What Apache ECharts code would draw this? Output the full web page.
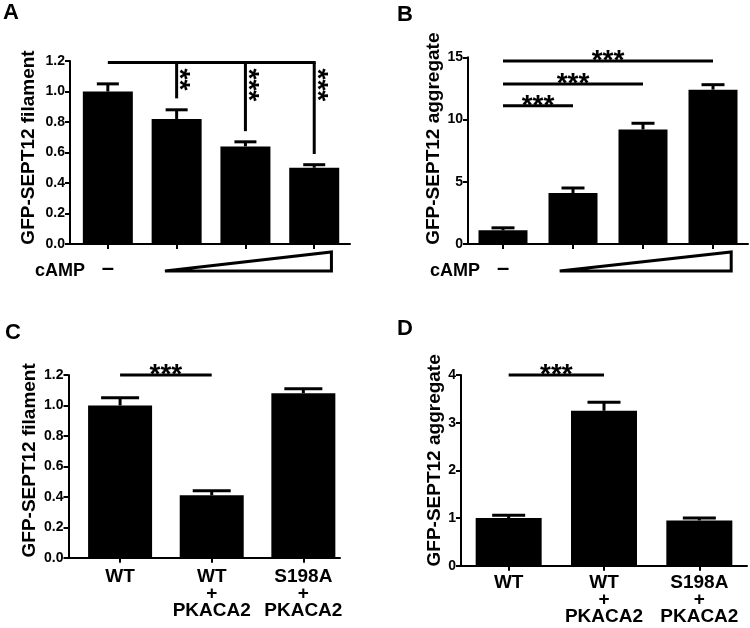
<!DOCTYPE html>
<html><head><meta charset="utf-8">
<script src="https://cdn.jsdelivr.net/npm/echarts@6/dist/echarts.min.js"></script>
<style>html,body{margin:0;padding:0;background:#fff}#c{width:750px;height:628px}</style>
</head><body><div id="c"></div>
<script>
// ---------- Panel A: GFP-SEPT12 filament vs cAMP ----------
const labelsA = ['–', '', '', ''];
const meanA = [1.00, 0.82, 0.64, 0.50];
const errA = [1.05, 0.88, 0.67, 0.52];
const yTicksA = [0, 0.2, 0.4, 0.6, 0.8, 1.0, 1.2];
const bracketA = [0, 3, 1.19];            // from category, to category, level
const dropsA = [[1, 0.955], [2, 0.74], [3, 0.59]];
const starsA = ['**', '***', '***'];
const rampA = [0.83, 3.25];

// ---------- Panel B: GFP-SEPT12 aggregate vs cAMP ----------
const labelsB = ['–', '', '', ''];
const meanB = [1.1, 4.1, 9.2, 12.4];
const errB = [1.3, 4.5, 9.7, 12.8];
const yTicksB = [0, 5, 10, 15];
const sigB = [[0, 1, 11.1], [0, 2, 12.85], [0, 3, 14.7]];
const starsB = ['***', '***', '***'];
const rampB = [0.81, 3.26];

// ---------- Panel C: GFP-SEPT12 filament ----------
const labelsC = ['WT', 'WT\n+\nPKACA2', 'S198A\n+\nPKACA2'];
const meanC = [1.00, 0.41, 1.08];
const errC = [1.05, 0.44, 1.11];
const yTicksC = [0, 0.2, 0.4, 0.6, 0.8, 1.0, 1.2];
const sigC = [[0, 1, 1.2]];
const starsC = ['***'];

// ---------- Panel D: GFP-SEPT12 aggregate ----------
const labelsD = ['WT', 'WT\n+\nPKACA2', 'S198A\n+\nPKACA2'];
const meanD = [1.00, 3.25, 0.95];
const errD = [1.06, 3.43, 1.00];
const yTicksD = [0, 1, 2, 3, 4];
const sigD = [[0, 1, 4.0]];
const starsD = ['***'];

const FONT = '"Liberation Sans", Arial, sans-serif';
const chart = echarts.init(document.getElementById('c'), null, {renderer: 'canvas'});

const panels = [
  {grid: {left: 70, top: 61, width: 280, height: 183}, xMin: -0.55, xMax: 3.52,
   labels: labelsA, mean: meanA, err: errA, yTicks: yTicksA, dec: 1,
   name: 'GFP-SEPT12 filament', nameGap: 32, namePad: 10, barW: 50, capW: 22,
   labelFont: 22, labelMargin: 16},
  {grid: {left: 468, top: 57.3, width: 280, height: 186.7}, xMin: -0.5, xMax: 3.5,
   labels: labelsB, mean: meanB, err: errB, yTicks: yTicksB, dec: 0,
   name: 'GFP-SEPT12 aggregate', nameGap: 21, namePad: 24, barW: 49, capW: 23,
   labelFont: 22, labelMargin: 16},
  {grid: {left: 68.5, top: 375, width: 271.5, height: 182.7}, xMin: -0.563, xMax: 2.40,
   labels: labelsC, mean: meanC, err: errC, yTicks: yTicksC, dec: 1,
   name: 'GFP-SEPT12 filament', nameGap: 29, namePad: 12, barW: 64, capW: 38,
   labelFont: 19, labelMargin: 11},
  {grid: {left: 461, top: 375, width: 286, height: 190.7}, xMin: -0.5, xMax: 2.5,
   labels: labelsD, mean: meanD, err: errD, yTicks: yTicksD, dec: 0,
   name: 'GFP-SEPT12 aggregate', nameGap: 15, namePad: 20, barW: 66, capW: 33,
   labelFont: 19, labelMargin: 9}
];

const grids = [], xAxes = [], yAxes = [], series = [];
const axisLine = {show: true, onZero: false, lineStyle: {color: '#000', width: 2}};

panels.forEach((p, i) => {
  grids.push(Object.assign({containLabel: false}, p.grid));
  const idx = p.labels.map((_, k) => k);
  xAxes.push({
    gridIndex: i, type: 'value', min: p.xMin, max: p.xMax,
    splitLine: {show: false}, axisLine: axisLine,
    axisTick: {show: true, customValues: idx, length: 5, lineStyle: {color: '#000', width: 2}},
    axisLabel: {show: true, customValues: idx, formatter: v => p.labels[Math.round(v)],
      color: '#000', fontFamily: FONT, fontWeight: 'bold', fontSize: p.labelFont,
      lineHeight: 17, margin: p.labelMargin, align: 'center'}
  });
  yAxes.push({
    gridIndex: i, type: 'value', min: p.yTicks[0], max: p.yTicks[p.yTicks.length - 1],
    interval: p.yTicks[1] - p.yTicks[0],
    splitLine: {show: false}, axisLine: axisLine,
    axisTick: {show: true, length: 5, lineStyle: {color: '#000', width: 2}},
    axisLabel: {color: '#000', fontFamily: FONT, fontWeight: 'bold', fontSize: 14, margin: 5,
      formatter: v => v.toFixed(p.dec)},
    name: p.name, nameLocation: 'middle', nameGap: p.nameGap,
    nameTextStyle: {color: '#000', fontFamily: FONT, fontWeight: 'bold', fontSize: 19,
      padding: [0, 0, 0, p.namePad]}
  });
  series.push({
    type: 'bar', xAxisIndex: i, yAxisIndex: i, barWidth: p.barW, silent: true,
    itemStyle: {color: '#000'}, data: p.mean.map((v, k) => [k, v])
  });
  series.push({
    type: 'custom', xAxisIndex: i, yAxisIndex: i, silent: true, clip: false,
    data: p.mean.map((v, k) => [k, v, p.err[k]]),
    renderItem: (params, api) => {
      const a = api.coord([api.value(0), api.value(1)]);
      const b = api.coord([api.value(0), api.value(2)]);
      const st = {stroke: '#000', lineWidth: 3, fill: null};
      return {type: 'group', children: [
        {type: 'line', shape: {x1: a[0], y1: a[1], x2: b[0], y2: b[1]}, style: st},
        {type: 'line', shape: {x1: b[0] - p.capW / 2, y1: b[1], x2: b[0] + p.capW / 2, y2: b[1]}, style: st}
      ]};
    }
  });
});

const starFont = 'bold 28px ' + FONT;
const lineSt = {stroke: '#000', lineWidth: 3, fill: null};

// Panel A bracket with drops and vertical stars
series.push({
  type: 'custom', xAxisIndex: 0, yAxisIndex: 0, silent: true, clip: false,
  data: dropsA,
  renderItem: (params, api) => {
    const top = api.coord([api.value(0), bracketA[2]]);
    const bot = api.coord([api.value(0), api.value(1)]);
    const children = [
      {type: 'line', shape: {x1: top[0], y1: top[1], x2: bot[0], y2: bot[1]}, style: lineSt},
      {type: 'text', x: top[0] + 2, y: top[1] + 6, rotation: -Math.PI / 2,
       style: {text: starsA[params.dataIndex], font: starFont, fill: '#000', align: 'left', verticalAlign: 'middle'}}
    ];
    if (params.dataIndex === 0) {
      const l = api.coord([bracketA[0], bracketA[2]]);
      const r = api.coord([bracketA[1], bracketA[2]]);
      children.push({type: 'line', shape: {x1: l[0], y1: l[1], x2: r[0] + 1.5, y2: r[1]}, style: lineSt});
    }
    return {type: 'group', children};
  }
});

// Horizontal significance lines with stars above (B, C, D)
[[1, sigB, starsB], [2, sigC, starsC], [3, sigD, starsD]].forEach(([gi, sig, stars]) => {
  series.push({
    type: 'custom', xAxisIndex: gi, yAxisIndex: gi, silent: true, clip: false,
    data: sig,
    renderItem: (params, api) => {
      const l = api.coord([api.value(0), api.value(2)]);
      const r = api.coord([api.value(1), api.value(2)]);
      return {type: 'group', children: [
        {type: 'line', shape: {x1: l[0], y1: l[1], x2: r[0], y2: r[1]}, style: lineSt},
        {type: 'text', x: (l[0] + r[0]) / 2, y: l[1],
         style: {text: stars[params.dataIndex], font: starFont, fill: '#000', align: 'center', verticalAlign: 'middle'}}
      ]};
    }
  });
});

// cAMP ramps (A, B)
[[0, rampA], [1, rampB]].forEach(([gi, ramp]) => {
  series.push({
    type: 'custom', xAxisIndex: gi, yAxisIndex: gi, silent: true, clip: false,
    data: [ramp],
    renderItem: (params, api) => {
      const a = api.coord([api.value(0), 0]);
      const b = api.coord([api.value(1), 0]);
      return {type: 'polygon', shape: {points: [[a[0], a[1] + 27], [b[0], a[1] + 8], [b[0], a[1] + 27]]},
        style: {fill: '#fff', stroke: '#000', lineWidth: 3, lineJoin: 'miter'}};
    }
  });
});

const txt = (t, x, y, size) => ({type: 'text', x, y, silent: true,
  style: {text: t, font: 'bold ' + size + 'px ' + FONT, fill: '#000', align: 'left', verticalAlign: 'middle'}});

chart.setOption({
  animation: false,
  backgroundColor: '#fff',
  grid: grids, xAxis: xAxes, yAxis: yAxes, series,
  graphic: [
    txt('A', 3, 13, 22), txt('B', 397, 14.5, 22), txt('C', 5, 332.5, 22), txt('D', 397, 328.5, 22),
    txt('cAMP', 35, 271, 18), txt('cAMP', 430, 271, 18)
  ]
});
</script></body></html>
